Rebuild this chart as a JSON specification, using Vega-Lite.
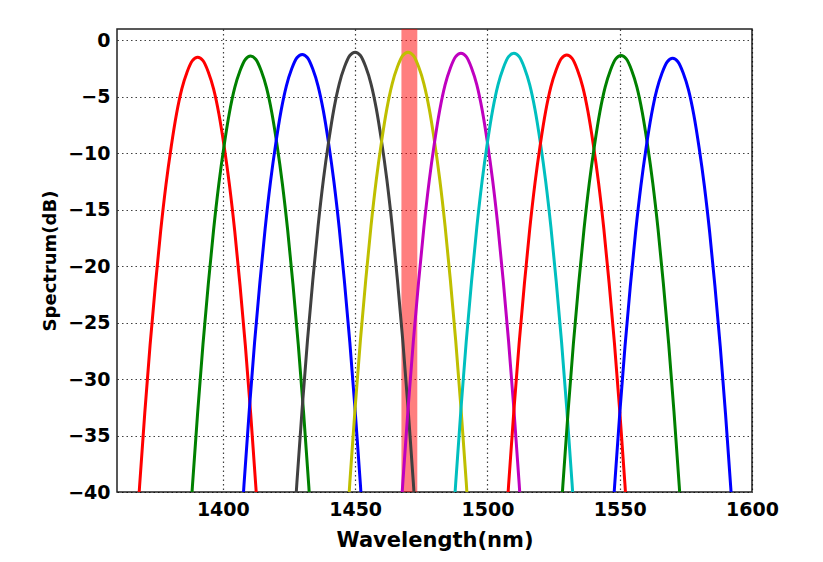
{
"$schema": "https://vega.github.io/schema/vega-lite/v6.json",
"width": 635, "height": 463,
"autosize": {"type": "none"},
"padding": {"left": 117, "top": 29, "right": 71, "bottom": 70},
"background": "white",
"config": {
  "view": {"stroke": "#222", "strokeWidth": 1.5},
  "axis": {"labelFont": "DejaVu Sans", "labelFontWeight": "bold", "labelFontSize": 19, "labelColor": "#000", "labelFlush": false,
           "titleFont": "DejaVu Sans", "titleFontWeight": "bold", "titleColor": "#000",
           "domain": false, "ticks": false, "grid": true, "gridColor": "#000", "gridDash": [1.5, 3], "gridOpacity": 0.75, "gridWidth": 1.2}
},
"datasets": {
  "band": [{"x1": 1467.5, "x2": 1473.5}],
  "curves": [
{"s":"r1","x":1366.5,"y":-46.9},{"s":"r1","x":1368.5,"y":-39.6},{"s":"r1","x":1370.5,"y":-33},{"s":"r1","x":1372.5,"y":-27},{"s":"r1","x":1374.5,"y":-21.7},{"s":"r1","x":1376.5,"y":-16.9},{"s":"r1","x":1378.5,"y":-12.8},{"s":"r1","x":1380.5,"y":-9.4},{"s":"r1","x":1382.5,"y":-6.5},{"s":"r1","x":1384.5,"y":-4.3},{"s":"r1","x":1386.5,"y":-2.8},{"s":"r1","x":1388.5,"y":-1.8},{"s":"r1","x":1390.5,"y":-1.5},{"s":"r1","x":1392.5,"y":-1.8},{"s":"r1","x":1394.5,"y":-2.8},{"s":"r1","x":1396.5,"y":-4.3},{"s":"r1","x":1398.5,"y":-6.5},{"s":"r1","x":1400.5,"y":-9.4},{"s":"r1","x":1402.5,"y":-12.8},{"s":"r1","x":1404.5,"y":-16.9},{"s":"r1","x":1406.5,"y":-21.7},{"s":"r1","x":1408.5,"y":-27},{"s":"r1","x":1410.5,"y":-33},{"s":"r1","x":1412.5,"y":-39.6},{"s":"r1","x":1414.5,"y":-46.9},
{"s":"g1","x":1386.5,"y":-46.8},{"s":"g1","x":1388.5,"y":-39.5},{"s":"g1","x":1390.5,"y":-32.9},{"s":"g1","x":1392.5,"y":-26.9},{"s":"g1","x":1394.5,"y":-21.6},{"s":"g1","x":1396.5,"y":-16.8},{"s":"g1","x":1398.5,"y":-12.7},{"s":"g1","x":1400.5,"y":-9.3},{"s":"g1","x":1402.5,"y":-6.4},{"s":"g1","x":1404.5,"y":-4.2},{"s":"g1","x":1406.5,"y":-2.7},{"s":"g1","x":1408.5,"y":-1.7},{"s":"g1","x":1410.5,"y":-1.4},{"s":"g1","x":1412.5,"y":-1.7},{"s":"g1","x":1414.5,"y":-2.7},{"s":"g1","x":1416.5,"y":-4.2},{"s":"g1","x":1418.5,"y":-6.4},{"s":"g1","x":1420.5,"y":-9.3},{"s":"g1","x":1422.5,"y":-12.7},{"s":"g1","x":1424.5,"y":-16.8},{"s":"g1","x":1426.5,"y":-21.6},{"s":"g1","x":1428.5,"y":-26.9},{"s":"g1","x":1430.5,"y":-32.9},{"s":"g1","x":1432.5,"y":-39.5},{"s":"g1","x":1434.5,"y":-46.8},
{"s":"b1","x":1406,"y":-46.65},{"s":"b1","x":1408,"y":-39.35},{"s":"b1","x":1410,"y":-32.75},{"s":"b1","x":1412,"y":-26.75},{"s":"b1","x":1414,"y":-21.45},{"s":"b1","x":1416,"y":-16.65},{"s":"b1","x":1418,"y":-12.55},{"s":"b1","x":1420,"y":-9.15},{"s":"b1","x":1422,"y":-6.25},{"s":"b1","x":1424,"y":-4.05},{"s":"b1","x":1426,"y":-2.55},{"s":"b1","x":1428,"y":-1.55},{"s":"b1","x":1430,"y":-1.25},{"s":"b1","x":1432,"y":-1.55},{"s":"b1","x":1434,"y":-2.55},{"s":"b1","x":1436,"y":-4.05},{"s":"b1","x":1438,"y":-6.25},{"s":"b1","x":1440,"y":-9.15},{"s":"b1","x":1442,"y":-12.55},{"s":"b1","x":1444,"y":-16.65},{"s":"b1","x":1446,"y":-21.45},{"s":"b1","x":1448,"y":-26.75},{"s":"b1","x":1450,"y":-32.75},{"s":"b1","x":1452,"y":-39.35},{"s":"b1","x":1454,"y":-46.65},
{"s":"k","x":1426,"y":-46.45},{"s":"k","x":1428,"y":-39.15},{"s":"k","x":1430,"y":-32.55},{"s":"k","x":1432,"y":-26.55},{"s":"k","x":1434,"y":-21.25},{"s":"k","x":1436,"y":-16.45},{"s":"k","x":1438,"y":-12.35},{"s":"k","x":1440,"y":-8.95},{"s":"k","x":1442,"y":-6.05},{"s":"k","x":1444,"y":-3.85},{"s":"k","x":1446,"y":-2.35},{"s":"k","x":1448,"y":-1.35},{"s":"k","x":1450,"y":-1.05},{"s":"k","x":1452,"y":-1.35},{"s":"k","x":1454,"y":-2.35},{"s":"k","x":1456,"y":-3.85},{"s":"k","x":1458,"y":-6.05},{"s":"k","x":1460,"y":-8.95},{"s":"k","x":1462,"y":-12.35},{"s":"k","x":1464,"y":-16.45},{"s":"k","x":1466,"y":-21.25},{"s":"k","x":1468,"y":-26.55},{"s":"k","x":1470,"y":-32.55},{"s":"k","x":1472,"y":-39.15},{"s":"k","x":1474,"y":-46.45},
{"s":"y","x":1446,"y":-46.45},{"s":"y","x":1448,"y":-39.15},{"s":"y","x":1450,"y":-32.55},{"s":"y","x":1452,"y":-26.55},{"s":"y","x":1454,"y":-21.25},{"s":"y","x":1456,"y":-16.45},{"s":"y","x":1458,"y":-12.35},{"s":"y","x":1460,"y":-8.95},{"s":"y","x":1462,"y":-6.05},{"s":"y","x":1464,"y":-3.85},{"s":"y","x":1466,"y":-2.35},{"s":"y","x":1468,"y":-1.35},{"s":"y","x":1470,"y":-1.05},{"s":"y","x":1472,"y":-1.35},{"s":"y","x":1474,"y":-2.35},{"s":"y","x":1476,"y":-3.85},{"s":"y","x":1478,"y":-6.05},{"s":"y","x":1480,"y":-8.95},{"s":"y","x":1482,"y":-12.35},{"s":"y","x":1484,"y":-16.45},{"s":"y","x":1486,"y":-21.25},{"s":"y","x":1488,"y":-26.55},{"s":"y","x":1490,"y":-32.55},{"s":"y","x":1492,"y":-39.15},{"s":"y","x":1494,"y":-46.45},
{"s":"m","x":1466,"y":-46.55},{"s":"m","x":1468,"y":-39.25},{"s":"m","x":1470,"y":-32.65},{"s":"m","x":1472,"y":-26.65},{"s":"m","x":1474,"y":-21.35},{"s":"m","x":1476,"y":-16.55},{"s":"m","x":1478,"y":-12.45},{"s":"m","x":1480,"y":-9.05},{"s":"m","x":1482,"y":-6.15},{"s":"m","x":1484,"y":-3.95},{"s":"m","x":1486,"y":-2.45},{"s":"m","x":1488,"y":-1.45},{"s":"m","x":1490,"y":-1.15},{"s":"m","x":1492,"y":-1.45},{"s":"m","x":1494,"y":-2.45},{"s":"m","x":1496,"y":-3.95},{"s":"m","x":1498,"y":-6.15},{"s":"m","x":1500,"y":-9.05},{"s":"m","x":1502,"y":-12.45},{"s":"m","x":1504,"y":-16.55},{"s":"m","x":1506,"y":-21.35},{"s":"m","x":1508,"y":-26.65},{"s":"m","x":1510,"y":-32.65},{"s":"m","x":1512,"y":-39.25},{"s":"m","x":1514,"y":-46.55},
{"s":"c","x":1486,"y":-46.55},{"s":"c","x":1488,"y":-39.25},{"s":"c","x":1490,"y":-32.65},{"s":"c","x":1492,"y":-26.65},{"s":"c","x":1494,"y":-21.35},{"s":"c","x":1496,"y":-16.55},{"s":"c","x":1498,"y":-12.45},{"s":"c","x":1500,"y":-9.05},{"s":"c","x":1502,"y":-6.15},{"s":"c","x":1504,"y":-3.95},{"s":"c","x":1506,"y":-2.45},{"s":"c","x":1508,"y":-1.45},{"s":"c","x":1510,"y":-1.15},{"s":"c","x":1512,"y":-1.45},{"s":"c","x":1514,"y":-2.45},{"s":"c","x":1516,"y":-3.95},{"s":"c","x":1518,"y":-6.15},{"s":"c","x":1520,"y":-9.05},{"s":"c","x":1522,"y":-12.45},{"s":"c","x":1524,"y":-16.55},{"s":"c","x":1526,"y":-21.35},{"s":"c","x":1528,"y":-26.65},{"s":"c","x":1530,"y":-32.65},{"s":"c","x":1532,"y":-39.25},{"s":"c","x":1534,"y":-46.55},
{"s":"r2","x":1506,"y":-46.7},{"s":"r2","x":1508,"y":-39.4},{"s":"r2","x":1510,"y":-32.8},{"s":"r2","x":1512,"y":-26.8},{"s":"r2","x":1514,"y":-21.5},{"s":"r2","x":1516,"y":-16.7},{"s":"r2","x":1518,"y":-12.6},{"s":"r2","x":1520,"y":-9.2},{"s":"r2","x":1522,"y":-6.3},{"s":"r2","x":1524,"y":-4.1},{"s":"r2","x":1526,"y":-2.6},{"s":"r2","x":1528,"y":-1.6},{"s":"r2","x":1530,"y":-1.3},{"s":"r2","x":1532,"y":-1.6},{"s":"r2","x":1534,"y":-2.6},{"s":"r2","x":1536,"y":-4.1},{"s":"r2","x":1538,"y":-6.3},{"s":"r2","x":1540,"y":-9.2},{"s":"r2","x":1542,"y":-12.6},{"s":"r2","x":1544,"y":-16.7},{"s":"r2","x":1546,"y":-21.5},{"s":"r2","x":1548,"y":-26.8},{"s":"r2","x":1550,"y":-32.8},{"s":"r2","x":1552,"y":-39.4},{"s":"r2","x":1554,"y":-46.7},
{"s":"g2","x":1526.5,"y":-46.75},{"s":"g2","x":1528.5,"y":-39.45},{"s":"g2","x":1530.5,"y":-32.85},{"s":"g2","x":1532.5,"y":-26.85},{"s":"g2","x":1534.5,"y":-21.55},{"s":"g2","x":1536.5,"y":-16.75},{"s":"g2","x":1538.5,"y":-12.65},{"s":"g2","x":1540.5,"y":-9.25},{"s":"g2","x":1542.5,"y":-6.35},{"s":"g2","x":1544.5,"y":-4.15},{"s":"g2","x":1546.5,"y":-2.65},{"s":"g2","x":1548.5,"y":-1.65},{"s":"g2","x":1550.5,"y":-1.35},{"s":"g2","x":1552.5,"y":-1.65},{"s":"g2","x":1554.5,"y":-2.65},{"s":"g2","x":1556.5,"y":-4.15},{"s":"g2","x":1558.5,"y":-6.35},{"s":"g2","x":1560.5,"y":-9.25},{"s":"g2","x":1562.5,"y":-12.65},{"s":"g2","x":1564.5,"y":-16.75},{"s":"g2","x":1566.5,"y":-21.55},{"s":"g2","x":1568.5,"y":-26.85},{"s":"g2","x":1570.5,"y":-32.85},{"s":"g2","x":1572.5,"y":-39.45},{"s":"g2","x":1574.5,"y":-46.75},
{"s":"b2","x":1546,"y":-47},{"s":"b2","x":1548,"y":-39.7},{"s":"b2","x":1550,"y":-33.1},{"s":"b2","x":1552,"y":-27.1},{"s":"b2","x":1554,"y":-21.8},{"s":"b2","x":1556,"y":-17},{"s":"b2","x":1558,"y":-12.9},{"s":"b2","x":1560,"y":-9.5},{"s":"b2","x":1562,"y":-6.6},{"s":"b2","x":1564,"y":-4.4},{"s":"b2","x":1566,"y":-2.9},{"s":"b2","x":1568,"y":-1.9},{"s":"b2","x":1570,"y":-1.6},{"s":"b2","x":1572,"y":-1.9},{"s":"b2","x":1574,"y":-2.9},{"s":"b2","x":1576,"y":-4.4},{"s":"b2","x":1578,"y":-6.6},{"s":"b2","x":1580,"y":-9.5},{"s":"b2","x":1582,"y":-12.9},{"s":"b2","x":1584,"y":-17},{"s":"b2","x":1586,"y":-21.8},{"s":"b2","x":1588,"y":-27.1},{"s":"b2","x":1590,"y":-33.1},{"s":"b2","x":1592,"y":-39.7},{"s":"b2","x":1594,"y":-47}
  ]
},
"layer": [
  {
    "data": {"name": "band"},
    "mark": {"type": "rect", "color": "#ff0000", "opacity": 0.5},
    "encoding": {
      "x": {"field": "x1", "type": "quantitative",
            "scale": {"domain": [1360, 1600], "nice": false, "zero": false},
            "axis": {"values": [1400, 1450, 1500, 1550, 1600], "format": "d", "title": "Wavelength(nm)", "titleFontSize": 21, "labelPadding": 8, "titlePadding": 10}},
      "x2": {"field": "x2"}
    }
  },
  {
    "data": {"name": "curves"},
    "mark": {"type": "line", "strokeWidth": 3, "clip": true, "interpolate": "monotone"},
    "encoding": {
      "x": {"field": "x", "type": "quantitative"},
      "y": {"field": "y", "type": "quantitative",
            "scale": {"domain": [-40, 1], "nice": false, "zero": false},
            "axis": {"values": [-40, -35, -30, -25, -20, -15, -10, -5, 0], "format": "d", "title": "Spectrum(dB)", "titleFontSize": 18, "labelPadding": 7, "titlePadding": 8}},
      "color": {"field": "s", "type": "nominal",
                "scale": {"domain": ["r1", "g1", "b1", "k", "y", "m", "c", "r2", "g2", "b2"],
                          "range": ["#ff0000", "#008000", "#0000ff", "#404040", "#bfbf00", "#bf00bf", "#00bfbf", "#ff0000", "#008000", "#0000ff"]},
                "legend": null}
    }
  }
]
}
